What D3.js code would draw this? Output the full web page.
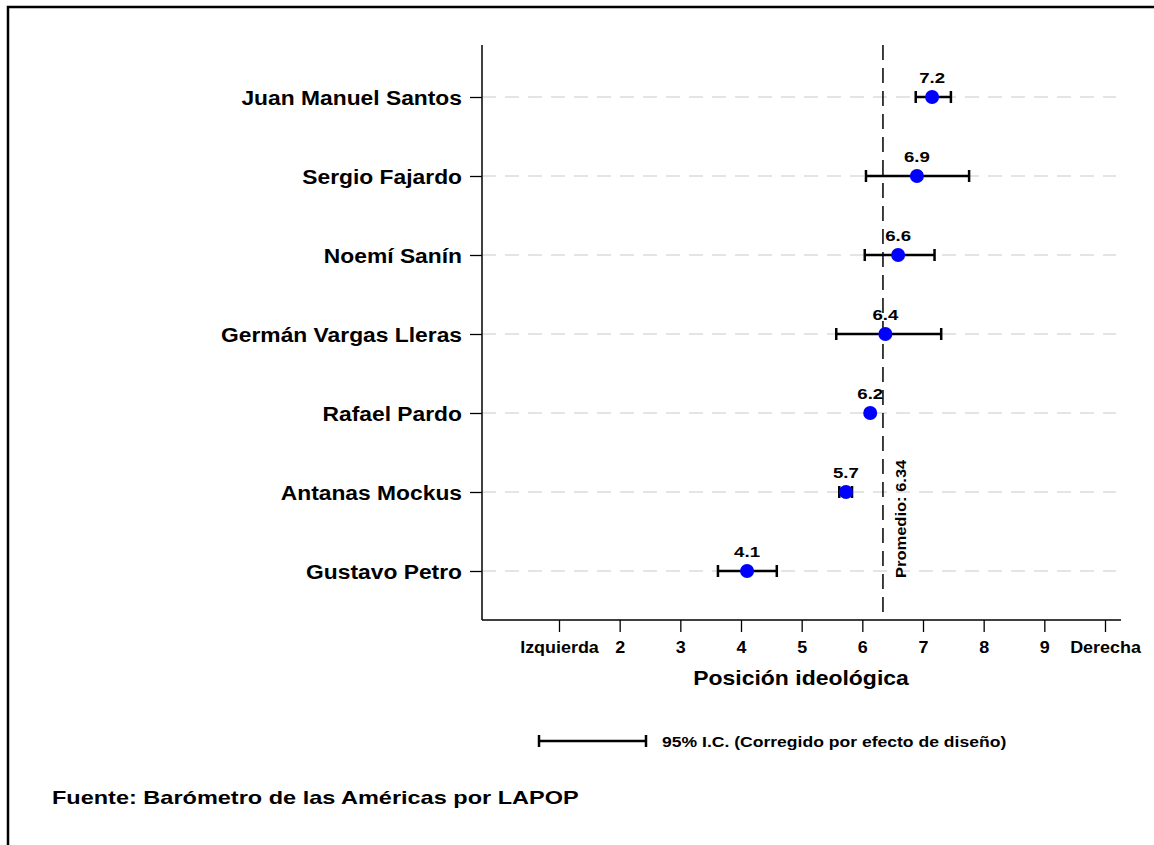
<!DOCTYPE html>
<html>
<head>
<meta charset="utf-8">
<script src="https://cdn.jsdelivr.net/npm/d3@7"></script>
<style>
  body { margin: 0; background: #fff; }
  text { font-family: "Liberation Sans", Arial, sans-serif; font-weight: bold; fill: #000; }
</style>
</head>
<body>
<div id="plot"></div>
<script>
// data
var candidates = ["Juan Manuel Santos", "Sergio Fajardo", "Noemí Sanín",
                  "Germán Vargas Lleras", "Rafael Pardo", "Antanas Mockus", "Gustavo Petro"];
var means  = [7.15, 6.90, 6.59, 6.38, 6.13, 5.73, 4.10];
var lower  = [6.88, 6.06, 6.04, 5.57, 6.13, 5.62, 3.62];
var upper  = [7.46, 7.76, 7.19, 7.30, 6.13, 5.83, 4.59];
var labels = ["7.2", "6.9", "6.6", "6.4", "6.2", "5.7", "4.1"];
var avg = 6.34;

var tickVals   = [1, 2, 3, 4, 5, 6, 7, 8, 9, 10];
var tickLabels = ["Izquierda", "2", "3", "4", "5", "6", "7", "8", "9", "Derecha"];

var W = 1154, H = 845;

// the original font is wider than Arial, so stretch text a bit
function stretch(sel, k) {
    sel.each(function () {
        var len = this.getComputedTextLength();
        d3.select(this)
            .attr("textLength", len * k)
            .attr("lengthAdjust", "spacingAndGlyphs");
    });
}

var svg = d3.select("#plot").append("svg")
    .attr("width", W)
    .attr("height", H);

// frame (only top and left edges are visible)
svg.append("path")
    .attr("d", "M8,845 L8,7 L1154,7")
    .attr("fill", "none")
    .attr("stroke", "#000")
    .attr("stroke-width", 2.5);

var x = d3.scaleLinear().domain([1, 10]).range([559, 1105]);
var y = d3.scalePoint().domain(candidates).range([97, 571]);

var pLeft = 482, pRight = 1121, pTop = 45, pBottom = 620;

// horizontal dashed grid lines
svg.selectAll(".grid")
    .data(candidates)
    .enter().append("line")
    .attr("class", "grid")
    .attr("x1", pLeft).attr("x2", 1116)
    .attr("y1", function (d) { return y(d); })
    .attr("y2", function (d) { return y(d); })
    .attr("stroke", "#dcdcdc")
    .attr("stroke-width", 1.5)
    .attr("stroke-dasharray", "14,9");

// axes
var xAxis = d3.axisBottom(x)
    .tickValues(tickVals)
    .tickSize(12)
    .tickFormat(function (d, i) { return tickLabels[i]; });

var gx = svg.append("g")
    .attr("transform", "translate(0," + pBottom + ")")
    .call(xAxis);
gx.select(".domain").remove();
gx.selectAll(".tick line").attr("stroke", "#000").attr("stroke-width", 1.3);
gx.selectAll(".tick text")
    .attr("y", 22)
    .attr("font-size", 16)
    .style("font-family", "'Liberation Sans', Arial, sans-serif")
    .style("font-weight", "bold")
    .call(stretch, 1.12);

var yAxis = d3.axisLeft(y).tickSize(12).tickPadding(8);
var gy = svg.append("g")
    .attr("transform", "translate(" + pLeft + ",0)")
    .call(yAxis);
gy.select(".domain").remove();
gy.selectAll(".tick line").attr("stroke", "#000").attr("stroke-width", 1.3);
gy.selectAll(".tick text")
    .attr("font-size", 19.5)
    .attr("dy", "0.36em")
    .style("font-family", "'Liberation Sans', Arial, sans-serif")
    .style("font-weight", "bold")
    .call(stretch, 1.17);

// axis lines
svg.append("line")
    .attr("x1", pLeft).attr("x2", pLeft)
    .attr("y1", pTop).attr("y2", pBottom)
    .attr("stroke", "#000").attr("stroke-width", 1.5);
svg.append("line")
    .attr("x1", pLeft).attr("x2", pRight)
    .attr("y1", pBottom).attr("y2", pBottom)
    .attr("stroke", "#000").attr("stroke-width", 1.5);

// mean line
svg.append("line")
    .attr("x1", x(avg)).attr("x2", x(avg))
    .attr("y1", pTop).attr("y2", pBottom)
    .attr("stroke", "#000")
    .attr("stroke-width", 1.5)
    .attr("stroke-dasharray", "15,8");

svg.append("text")
    .attr("transform", "translate(" + (x(avg) + 23) + ",578) rotate(-90)")
    .attr("font-size", 15)
    .text("Promedio: " + avg.toFixed(2))
    .call(stretch, 1.1);

// error bars
var bars = svg.selectAll(".ci")
    .data(candidates)
    .enter().append("g")
    .attr("class", "ci");

bars.append("line")
    .attr("x1", function (d, i) { return x(lower[i]); })
    .attr("x2", function (d, i) { return x(upper[i]); })
    .attr("y1", function (d) { return y(d); })
    .attr("y2", function (d) { return y(d); })
    .attr("stroke", "#000").attr("stroke-width", 2.5);

bars.selectAll(".cap")
    .data(function (d, i) {
        if (upper[i] - lower[i] < 0.01) return [];
        return [{v: lower[i], c: d}, {v: upper[i], c: d}];
    })
    .enter().append("line")
    .attr("class", "cap")
    .attr("x1", function (d) { return x(d.v); })
    .attr("x2", function (d) { return x(d.v); })
    .attr("y1", function (d) { return y(d.c) - 6; })
    .attr("y2", function (d) { return y(d.c) + 6; })
    .attr("stroke", "#000").attr("stroke-width", 2.5);

// points
svg.selectAll(".pt")
    .data(candidates)
    .enter().append("circle")
    .attr("class", "pt")
    .attr("cx", function (d, i) { return x(means[i]); })
    .attr("cy", function (d) { return y(d); })
    .attr("r", 7)
    .attr("fill", "#0000ff");

// value labels
svg.selectAll(".val")
    .data(candidates)
    .enter().append("text")
    .attr("class", "val")
    .attr("x", function (d, i) { return x(means[i]); })
    .attr("y", function (d) { return y(d) - 14; })
    .attr("text-anchor", "middle")
    .attr("font-size", 15.5)
    .text(function (d, i) { return labels[i]; })
    .call(stretch, 1.2);

// axis title
svg.append("text")
    .attr("x", 801).attr("y", 685)
    .attr("text-anchor", "middle")
    .attr("font-size", 20.5)
    .text("Posición ideológica")
    .call(stretch, 1.12);

// legend
svg.append("line")
    .attr("x1", 539).attr("x2", 646)
    .attr("y1", 741).attr("y2", 741)
    .attr("stroke", "#000").attr("stroke-width", 2.5);
[539, 646].forEach(function (px) {
    svg.append("line")
        .attr("x1", px).attr("x2", px)
        .attr("y1", 735).attr("y2", 747)
        .attr("stroke", "#000").attr("stroke-width", 2.5);
});
svg.append("text")
    .attr("x", 662).attr("y", 747)
    .attr("font-size", 15)
    .text("95% I.C. (Corregido por efecto de diseño)")
    .call(stretch, 1.17);

// source
svg.append("text")
    .attr("x", 52).attr("y", 804)
    .attr("font-size", 18.5)
    .text("Fuente: Barómetro de las Américas por LAPOP")
    .call(stretch, 1.27);
</script>
</body>
</html>
